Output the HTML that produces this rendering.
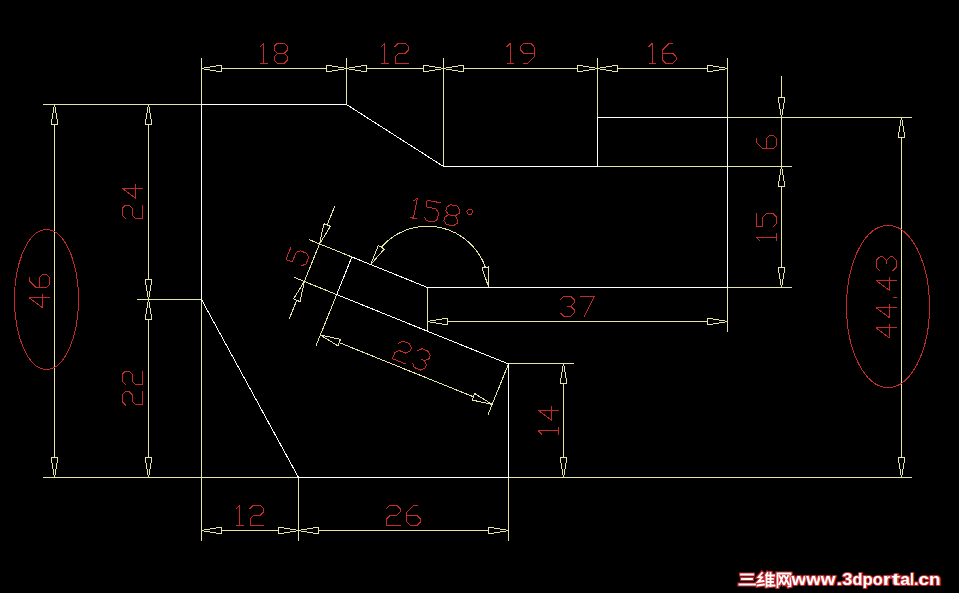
<!DOCTYPE html>
<html><head><meta charset="utf-8"><style>
html,body{margin:0;padding:0;background:#000;}
body{width:959px;height:593px;overflow:hidden;font-family:"Liberation Sans",sans-serif;}
svg{display:block;}
</style></head><body>
<svg width="959" height="593" viewBox="0 0 959 593">
<rect width="959" height="593" fill="#000"/>
<g stroke-width="1" fill="none" shape-rendering="crispEdges" stroke-linecap="square">
<line x1="201.5" y1="58.5" x2="201.5" y2="103.5" stroke="#e8e5a8" shape-rendering="crispEdges"/>
<line x1="346.5" y1="58.5" x2="346.5" y2="103.5" stroke="#e8e5a8" shape-rendering="crispEdges"/>
<line x1="443.5" y1="58.5" x2="443.5" y2="166.5" stroke="#e8e5a8" shape-rendering="crispEdges"/>
<line x1="597.5" y1="58.5" x2="597.5" y2="116.5" stroke="#e8e5a8" shape-rendering="crispEdges"/>
<line x1="727.5" y1="58.5" x2="727.5" y2="116.5" stroke="#e8e5a8" shape-rendering="crispEdges"/>
<polygon points="201.5,68.5 221.77,65 221.77,72" fill="none" stroke="#e8e5a8" stroke-linejoin="bevel" shape-rendering="crispEdges"/>
<polygon points="346.5,68.5 326.23,72 326.23,65" fill="none" stroke="#e8e5a8" stroke-linejoin="bevel" shape-rendering="crispEdges"/>
<line x1="221.77" y1="68.5" x2="326.23" y2="68.5" stroke="#e8e5a8" shape-rendering="crispEdges"/>
<polygon points="346.5,68.5 366.77,65 366.77,72" fill="none" stroke="#e8e5a8" stroke-linejoin="bevel" shape-rendering="crispEdges"/>
<polygon points="443.5,68.5 423.23,72 423.23,65" fill="none" stroke="#e8e5a8" stroke-linejoin="bevel" shape-rendering="crispEdges"/>
<line x1="366.77" y1="68.5" x2="423.23" y2="68.5" stroke="#e8e5a8" shape-rendering="crispEdges"/>
<polygon points="443.5,68.5 463.77,65 463.77,72" fill="none" stroke="#e8e5a8" stroke-linejoin="bevel" shape-rendering="crispEdges"/>
<polygon points="597.5,68.5 577.23,72 577.23,65" fill="none" stroke="#e8e5a8" stroke-linejoin="bevel" shape-rendering="crispEdges"/>
<line x1="463.77" y1="68.5" x2="577.23" y2="68.5" stroke="#e8e5a8" shape-rendering="crispEdges"/>
<polygon points="597.5,68.5 617.77,65 617.77,72" fill="none" stroke="#e8e5a8" stroke-linejoin="bevel" shape-rendering="crispEdges"/>
<polygon points="727.5,68.5 707.23,72 707.23,65" fill="none" stroke="#e8e5a8" stroke-linejoin="bevel" shape-rendering="crispEdges"/>
<line x1="617.77" y1="68.5" x2="707.23" y2="68.5" stroke="#e8e5a8" shape-rendering="crispEdges"/>
<line x1="43.5" y1="104.5" x2="200.5" y2="104.5" stroke="#e8e5a8" shape-rendering="crispEdges"/>
<line x1="137.5" y1="299.5" x2="201.5" y2="299.5" stroke="#e8e5a8" shape-rendering="crispEdges"/>
<line x1="43.5" y1="477.5" x2="297.5" y2="477.5" stroke="#e8e5a8" shape-rendering="crispEdges"/>
<polygon points="54.5,104.5 58,124.77 51,124.77" fill="none" stroke="#e8e5a8" stroke-linejoin="bevel" shape-rendering="crispEdges"/>
<polygon points="54.5,477.5 51,457.23 58,457.23" fill="none" stroke="#e8e5a8" stroke-linejoin="bevel" shape-rendering="crispEdges"/>
<line x1="54.5" y1="124.77" x2="54.5" y2="457.23" stroke="#e8e5a8" shape-rendering="crispEdges"/>
<polygon points="148.5,104.5 152,124.77 145,124.77" fill="none" stroke="#e8e5a8" stroke-linejoin="bevel" shape-rendering="crispEdges"/>
<polygon points="148.5,299.5 145,279.23 152,279.23" fill="none" stroke="#e8e5a8" stroke-linejoin="bevel" shape-rendering="crispEdges"/>
<line x1="148.5" y1="124.77" x2="148.5" y2="279.23" stroke="#e8e5a8" shape-rendering="crispEdges"/>
<polygon points="148.5,299.5 152,319.77 145,319.77" fill="none" stroke="#e8e5a8" stroke-linejoin="bevel" shape-rendering="crispEdges"/>
<polygon points="148.5,477.5 145,457.23 152,457.23" fill="none" stroke="#e8e5a8" stroke-linejoin="bevel" shape-rendering="crispEdges"/>
<line x1="148.5" y1="319.77" x2="148.5" y2="457.23" stroke="#e8e5a8" shape-rendering="crispEdges"/>
<line x1="728.5" y1="117.5" x2="911.5" y2="117.5" stroke="#e8e5a8" shape-rendering="crispEdges"/>
<line x1="598.5" y1="166.5" x2="791.5" y2="166.5" stroke="#e8e5a8" shape-rendering="crispEdges"/>
<line x1="728.5" y1="287.5" x2="791.5" y2="287.5" stroke="#e8e5a8" shape-rendering="crispEdges"/>
<line x1="509.5" y1="363.5" x2="573.5" y2="363.5" stroke="#e8e5a8" shape-rendering="crispEdges"/>
<line x1="509.5" y1="477.5" x2="911.5" y2="477.5" stroke="#e8e5a8" shape-rendering="crispEdges"/>
<line x1="781.5" y1="76" x2="781.5" y2="97.23" stroke="#e8e5a8" shape-rendering="crispEdges"/>
<polygon points="781.5,117.5 778,97.23 785,97.23" fill="none" stroke="#e8e5a8" stroke-linejoin="bevel" shape-rendering="crispEdges"/>
<line x1="781.5" y1="117.5" x2="781.5" y2="166.5" stroke="#e8e5a8" shape-rendering="crispEdges"/>
<polygon points="781.5,166.5 785,186.77 778,186.77" fill="none" stroke="#e8e5a8" stroke-linejoin="bevel" shape-rendering="crispEdges"/>
<polygon points="781.5,287.5 778,267.23 785,267.23" fill="none" stroke="#e8e5a8" stroke-linejoin="bevel" shape-rendering="crispEdges"/>
<line x1="781.5" y1="186.77" x2="781.5" y2="267.23" stroke="#e8e5a8" shape-rendering="crispEdges"/>
<polygon points="901.5,117.5 905,137.77 898,137.77" fill="none" stroke="#e8e5a8" stroke-linejoin="bevel" shape-rendering="crispEdges"/>
<polygon points="901.5,477.5 898,457.23 905,457.23" fill="none" stroke="#e8e5a8" stroke-linejoin="bevel" shape-rendering="crispEdges"/>
<line x1="901.5" y1="137.77" x2="901.5" y2="457.23" stroke="#e8e5a8" shape-rendering="crispEdges"/>
<polygon points="563.5,363.5 567,383.77 560,383.77" fill="none" stroke="#e8e5a8" stroke-linejoin="bevel" shape-rendering="crispEdges"/>
<polygon points="563.5,477.5 560,457.23 567,457.23" fill="none" stroke="#e8e5a8" stroke-linejoin="bevel" shape-rendering="crispEdges"/>
<line x1="563.5" y1="383.77" x2="563.5" y2="457.23" stroke="#e8e5a8" shape-rendering="crispEdges"/>
<line x1="201.5" y1="300.5" x2="201.5" y2="540.5" stroke="#e8e5a8" shape-rendering="crispEdges"/>
<line x1="298.5" y1="478.5" x2="298.5" y2="540.5" stroke="#e8e5a8" shape-rendering="crispEdges"/>
<line x1="508.5" y1="478.5" x2="508.5" y2="540.5" stroke="#e8e5a8" shape-rendering="crispEdges"/>
<polygon points="201.5,530.5 221.77,527 221.77,534" fill="none" stroke="#e8e5a8" stroke-linejoin="bevel" shape-rendering="crispEdges"/>
<polygon points="298.5,530.5 278.23,534 278.23,527" fill="none" stroke="#e8e5a8" stroke-linejoin="bevel" shape-rendering="crispEdges"/>
<line x1="221.77" y1="530.5" x2="278.23" y2="530.5" stroke="#e8e5a8" shape-rendering="crispEdges"/>
<polygon points="298.5,530.5 318.77,527 318.77,534" fill="none" stroke="#e8e5a8" stroke-linejoin="bevel" shape-rendering="crispEdges"/>
<polygon points="508.5,530.5 488.23,534 488.23,527" fill="none" stroke="#e8e5a8" stroke-linejoin="bevel" shape-rendering="crispEdges"/>
<line x1="318.77" y1="530.5" x2="488.23" y2="530.5" stroke="#e8e5a8" shape-rendering="crispEdges"/>
<line x1="427.5" y1="288.5" x2="427.5" y2="330.5" stroke="#e8e5a8" shape-rendering="crispEdges"/>
<line x1="727.5" y1="288.5" x2="727.5" y2="331.5" stroke="#e8e5a8" shape-rendering="crispEdges"/>
<polygon points="427.5,321.5 447.77,318 447.77,325" fill="none" stroke="#e8e5a8" stroke-linejoin="bevel" shape-rendering="crispEdges"/>
<polygon points="727.5,321.5 707.23,325 707.23,318" fill="none" stroke="#e8e5a8" stroke-linejoin="bevel" shape-rendering="crispEdges"/>
<line x1="447.77" y1="321.5" x2="707.23" y2="321.5" stroke="#e8e5a8" shape-rendering="crispEdges"/>
<line x1="309.8" y1="239.94" x2="351.89" y2="256.95" stroke="#e8e5a8"/>
<line x1="294.79" y1="277.62" x2="336.7" y2="294.55" stroke="#e8e5a8"/>
<line x1="334.7" y1="206.33" x2="327.12" y2="225.08" stroke="#e8e5a8"/>
<line x1="319.53" y1="243.88" x2="304.34" y2="281.48" stroke="#e8e5a8"/>
<line x1="296.75" y1="300.27" x2="289.17" y2="319.03" stroke="#e8e5a8"/>
<polygon points="319.53,243.88 323.88,223.77 330.37,226.4" fill="none" stroke="#e8e5a8" stroke-linejoin="bevel"/>
<polygon points="304.34,281.48 299.99,301.58 293.5,298.96" fill="none" stroke="#e8e5a8" stroke-linejoin="bevel"/>
<line x1="336.7" y1="294.55" x2="316.1" y2="345.54" stroke="#e8e5a8"/>
<line x1="508.5" y1="363.96" x2="487.9" y2="414.96" stroke="#e8e5a8"/>
<line x1="339.16" y1="342.57" x2="473.37" y2="396.79" stroke="#e8e5a8"/>
<polygon points="320.37,334.97 340.47,339.32 337.85,345.81" fill="none" stroke="#e8e5a8" stroke-linejoin="bevel"/>
<polygon points="492.17,404.39 472.06,400.04 474.68,393.55" fill="none" stroke="#e8e5a8" stroke-linejoin="bevel"/>
<path d="M381.26 247.26 A61.3 61.3 0 0 1 485.45 267.51" fill="none" stroke="#e8e5a8"/>
<polygon points="488.8,287.5 482,268.09 488.9,266.93" fill="none" stroke="#e8e5a8" stroke-linejoin="bevel"/>
<polygon points="370.66,264.54 378.28,245.43 384.24,249.09" fill="none" stroke="#e8e5a8" stroke-linejoin="bevel"/>
<line x1="201.5" y1="104.5" x2="346.5" y2="104.5" stroke="#ffffff" shape-rendering="crispEdges"/>
<line x1="346.5" y1="104.5" x2="443.5" y2="166.5" stroke="#ffffff"/>
<line x1="443.5" y1="166.5" x2="597.5" y2="166.5" stroke="#ffffff" shape-rendering="crispEdges"/>
<line x1="597.5" y1="117.5" x2="597.5" y2="166.5" stroke="#ffffff" shape-rendering="crispEdges"/>
<line x1="597.5" y1="117.5" x2="727.5" y2="117.5" stroke="#ffffff" shape-rendering="crispEdges"/>
<line x1="727.5" y1="117.5" x2="727.5" y2="287.5" stroke="#ffffff" shape-rendering="crispEdges"/>
<line x1="427.5" y1="287.5" x2="727.5" y2="287.5" stroke="#ffffff" shape-rendering="crispEdges"/>
<line x1="427.5" y1="287.5" x2="351.89" y2="256.95" stroke="#ffffff"/>
<line x1="351.89" y1="256.95" x2="336.7" y2="294.55" stroke="#ffffff"/>
<line x1="336.7" y1="294.55" x2="508.5" y2="363.96" stroke="#ffffff"/>
<line x1="508.5" y1="363.5" x2="508.5" y2="477.5" stroke="#ffffff" shape-rendering="crispEdges"/>
<line x1="298.5" y1="477.5" x2="508.5" y2="477.5" stroke="#ffffff" shape-rendering="crispEdges"/>
<line x1="298.5" y1="477.5" x2="201.5" y2="299.5" stroke="#ffffff"/>
<line x1="201.5" y1="104.5" x2="201.5" y2="299.5" stroke="#ffffff" shape-rendering="crispEdges"/>
<ellipse cx="46.5" cy="299.5" rx="32" ry="70" fill="none" stroke="#c42a2a"/>
<ellipse cx="888" cy="306.5" rx="41.5" ry="81" fill="none" stroke="#c42a2a"/>
<path d="M260.5 46.6 L263.88 43.22 L263.88 63.5 M260.5 63.5 L267.26 63.5 M277.4 53.36 L274.02 49.98 L274.02 46.6 L277.4 43.22 L284.16 43.22 L287.54 46.6 L287.54 49.98 L284.16 53.36 L277.4 53.36 L274.02 56.74 L274.02 60.12 L277.4 63.5 L284.16 63.5 L287.54 60.12 L287.54 56.74 L284.16 53.36" fill="none" stroke="#c42a2a" stroke-linejoin="bevel"/>
<path d="M381.5 46.6 L384.88 43.22 L384.88 63.5 M381.5 63.5 L388.26 63.5 M395.02 46.6 L398.4 43.22 L405.16 43.22 L408.54 46.6 L408.54 49.98 L405.16 53.36 L398.4 53.36 L395.02 56.74 L395.02 63.5 L408.54 63.5" fill="none" stroke="#c42a2a" stroke-linejoin="bevel"/>
<path d="M507 46.6 L510.38 43.22 L510.38 63.5 M507 63.5 L513.76 63.5 M523.9 63.5 L527.28 63.5 L534.04 56.74 L534.04 46.6 L530.66 43.22 L523.9 43.22 L520.52 46.6 L520.52 49.98 L523.9 53.36 L534.04 53.36" fill="none" stroke="#c42a2a" stroke-linejoin="bevel"/>
<path d="M649 46.6 L652.38 43.22 L652.38 63.5 M649 63.5 L655.76 63.5 M672.66 43.22 L669.28 43.22 L662.52 49.98 L662.52 60.12 L665.9 63.5 L672.66 63.5 L676.04 60.12 L676.04 56.74 L672.66 53.36 L662.52 53.36" fill="none" stroke="#c42a2a" stroke-linejoin="bevel"/>
<path d="M236.5 508.6 L239.88 505.22 L239.88 525.5 M236.5 525.5 L243.26 525.5 M250.02 508.6 L253.4 505.22 L260.16 505.22 L263.54 508.6 L263.54 511.98 L260.16 515.36 L253.4 515.36 L250.02 518.74 L250.02 525.5 L263.54 525.5" fill="none" stroke="#c42a2a" stroke-linejoin="bevel"/>
<path d="M386.6 508.6 L389.98 505.22 L396.74 505.22 L400.12 508.6 L400.12 511.98 L396.74 515.36 L389.98 515.36 L386.6 518.74 L386.6 525.5 L400.12 525.5 M417.02 505.22 L413.64 505.22 L406.88 511.98 L406.88 522.12 L410.26 525.5 L417.02 525.5 L420.4 522.12 L420.4 518.74 L417.02 515.36 L406.88 515.36" fill="none" stroke="#c42a2a" stroke-linejoin="bevel"/>
<path d="M560.6 299.6 L563.98 296.22 L570.74 296.22 L574.12 299.6 L574.12 302.98 L570.74 306.36 L574.12 309.74 L574.12 313.12 L570.74 316.5 L563.98 316.5 L560.6 313.12 M567.36 306.36 L570.74 306.36 M580.88 296.22 L594.4 296.22 L584.26 316.5" fill="none" stroke="#c42a2a" stroke-linejoin="bevel"/>
<path d="M49.5 297.76 L29.22 297.76 L42.74 307.9 L42.74 294.38 M29.22 277.48 L29.22 280.86 L35.98 287.62 L46.12 287.62 L49.5 284.24 L49.5 277.48 L46.12 274.1 L42.74 274.1 L39.36 277.48 L39.36 287.62" fill="none" stroke="#c42a2a" stroke-linejoin="bevel"/>
<path d="M125.6 218.6 L122.22 215.22 L122.22 208.46 L125.6 205.08 L128.98 205.08 L132.36 208.46 L132.36 215.22 L135.74 218.6 L142.5 218.6 L142.5 205.08 M142.5 188.18 L122.22 188.18 L135.74 198.32 L135.74 184.8" fill="none" stroke="#c42a2a" stroke-linejoin="bevel"/>
<path d="M125.6 404.9 L122.22 401.52 L122.22 394.76 L125.6 391.38 L128.98 391.38 L132.36 394.76 L132.36 401.52 L135.74 404.9 L142.5 404.9 L142.5 391.38 M125.6 384.62 L122.22 381.24 L122.22 374.48 L125.6 371.1 L128.98 371.1 L132.36 374.48 L132.36 381.24 L135.74 384.62 L142.5 384.62 L142.5 371.1" fill="none" stroke="#c42a2a" stroke-linejoin="bevel"/>
<path d="M756.22 138.61 L756.22 141.99 L762.98 148.75 L773.12 148.75 L776.5 145.37 L776.5 138.61 L773.12 135.23 L769.74 135.23 L766.36 138.61 L766.36 148.75" fill="none" stroke="#c42a2a" stroke-linejoin="bevel"/>
<path d="M759.6 240.5 L756.22 237.12 L776.5 237.12 M776.5 240.5 L776.5 233.74 M756.22 213.46 L756.22 226.98 L762.98 226.98 L762.98 216.84 L766.36 213.46 L773.12 213.46 L776.5 216.84 L776.5 223.6 L773.12 226.98" fill="none" stroke="#c42a2a" stroke-linejoin="bevel"/>
<path d="M541.6 434 L538.22 430.62 L558.5 430.62 M558.5 434 L558.5 427.24 M558.5 410.34 L538.22 410.34 L551.74 420.48 L551.74 406.96" fill="none" stroke="#c42a2a" stroke-linejoin="bevel"/>
<path d="M896.5 327.96 L876.22 327.96 L889.74 338.1 L889.74 324.58 M896.5 307.68 L876.22 307.68 L889.74 317.82 L889.74 304.3 M896.5 297.54 L893.12 297.54 M896.5 280.64 L876.22 280.64 L889.74 290.78 L889.74 277.26 M879.6 270.5 L876.22 267.12 L876.22 260.36 L879.6 256.98 L882.98 256.98 L886.36 260.36 L889.74 256.98 L893.12 256.98 L896.5 260.36 L896.5 267.12 L893.12 270.5 M886.36 263.74 L886.36 260.36" fill="none" stroke="#c42a2a" stroke-linejoin="bevel"/>
<path d="M291.02 246.94 L285.96 259.47 L292.22 262 L296.02 252.6 L300.42 250.73 L306.69 253.27 L308.56 257.67 L306.03 263.93 L301.63 265.8" fill="none" stroke="#c42a2a" stroke-linejoin="bevel"/>
<path d="M398.81 343.03 L403.21 341.17 L409.47 343.7 L411.34 348.1 L410.07 351.23 L405.67 353.1 L399.41 350.57 L395.01 352.44 L392.47 358.7 L405.01 363.77 M417.61 350.63 L422.01 348.76 L428.28 351.3 L430.14 355.7 L428.88 358.83 L424.48 360.7 L426.35 365.1 L425.08 368.23 L420.68 370.1 L414.41 367.57 L412.54 363.17 M421.34 359.43 L424.48 360.7" fill="none" stroke="#c42a2a" stroke-linejoin="bevel"/>
<path d="M413.33 200.95 L417.3 198.27 L413.43 218.18 M410.11 217.54 L416.75 218.83 M440.52 202.79 L427.25 200.21 L425.96 206.84 L435.92 208.78 L438.59 212.74 L437.3 219.38 L433.34 222.05 L426.7 220.76 L424.03 216.8 M448.54 214.68 L445.87 210.71 L446.51 207.4 L450.48 204.72 L457.11 206.01 L459.79 209.98 L459.14 213.29 L455.18 215.97 L448.54 214.68 L444.58 217.35 L443.93 220.67 L446.61 224.63 L453.24 225.92 L457.21 223.25 L457.85 219.93 L455.18 215.97 M472.56 212.46 L472.12 210.3 L470.29 209.09 L468.13 209.53 L466.92 211.36 L467.36 213.52 L469.19 214.73 L471.35 214.29Z" fill="none" stroke="#c42a2a" stroke-linejoin="bevel"/>
</g>
<g id="wm" fill="none" stroke-linecap="square">
<g stroke="#c8282c" stroke-width="4.2">
<path d="M741 574.5H753M742 579H752M739.5 584.5H755"/>
<path d="M762 573L758.5 577L762 577.5L758 582L763.5 581M757.5 585.5L764 584.5M766.5 575.5V586.5M767.5 573L766 575.5M770.5 573V586M767.5 575.5H774M767.5 578.8H773M767.5 582H773M767.5 585.5H774.5"/>
<path d="M777.5 587V573.5H790.5V586L788.5 586.5M779.5 576L783.5 584M783 576L779.5 584M784.5 576L788.5 584M788 576L784.5 584"/>
</g>
<g stroke="#ffffff" stroke-width="1.8">
<path d="M741 574.5H753M742 579H752M739.5 584.5H755"/>
<path d="M762 573L758.5 577L762 577.5L758 582L763.5 581M757.5 585.5L764 584.5M766.5 575.5V586.5M767.5 573L766 575.5M770.5 573V586M767.5 575.5H774M767.5 578.8H773M767.5 582H773M767.5 585.5H774.5"/>
<path d="M777.5 587V573.5H790.5V586L788.5 586.5M779.5 576L783.5 584M783 576L779.5 584M784.5 576L788.5 584M788 576L784.5 584"/>
</g>
</g>
<g font-family="Liberation Sans" font-weight="bold" font-size="16.5" fill="#ffffff" stroke="#c8282c" stroke-width="2.2" paint-order="stroke" stroke-linejoin="round"><text x="791.5" y="584.8" textLength="14.7" lengthAdjust="spacingAndGlyphs">w</text><text x="806.2" y="584.8" textLength="14.6" lengthAdjust="spacingAndGlyphs">w</text><text x="820.8" y="584.8" textLength="14.7" lengthAdjust="spacingAndGlyphs">w</text><text x="836.5" y="584.8" textLength="5.8" lengthAdjust="spacingAndGlyphs">.</text><text x="842.3" y="584.8" textLength="10.2" lengthAdjust="spacingAndGlyphs">3</text><text x="852.5" y="584.8" textLength="10.0" lengthAdjust="spacingAndGlyphs">d</text><text x="862.5" y="584.8" textLength="10.3" lengthAdjust="spacingAndGlyphs">p</text><text x="872.8" y="584.8" textLength="10.0" lengthAdjust="spacingAndGlyphs">o</text><text x="882.8" y="584.8" textLength="8.7" lengthAdjust="spacingAndGlyphs">r</text><text x="891.5" y="584.8" textLength="8.7" lengthAdjust="spacingAndGlyphs">t</text><text x="900.2" y="584.8" textLength="9.8" lengthAdjust="spacingAndGlyphs">a</text><text x="910.0" y="584.8" textLength="4.0" lengthAdjust="spacingAndGlyphs">l</text><text x="914.0" y="584.8" textLength="4.5" lengthAdjust="spacingAndGlyphs">.</text><text x="918.5" y="584.8" textLength="10.5" lengthAdjust="spacingAndGlyphs">c</text><text x="929.0" y="584.8" textLength="11.5" lengthAdjust="spacingAndGlyphs">n</text></g>

</svg>
</body></html>
